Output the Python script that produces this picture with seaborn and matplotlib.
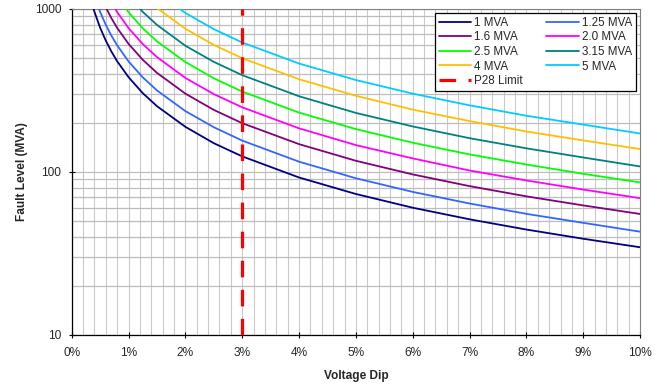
import matplotlib
matplotlib.use("Agg")
import matplotlib.pyplot as plt
from matplotlib.lines import Line2D
from matplotlib.ticker import FixedLocator, FuncFormatter, NullFormatter, LogLocator
import pandas as pd
import seaborn as sns

# voltage dip (%) at which each curve was read
dip = [0.35, 0.4, 0.5, 0.6, 0.7, 0.8, 1.0, 1.25, 1.5, 2, 2.5, 3, 4, 5, 6, 7, 8, 9, 10]

# fault level (MVA), one list per transformer size
mva_1    = [1096, 959, 766, 638, 546, 477, 381, 304, 253, 189, 150, 124.5, 92.4, 73.2, 60.3, 51.2, 44.3, 38.9, 34.5]
mva_1_25 = [1370, 1198, 958, 797, 683, 597, 476, 380, 316, 236, 188, 155.6, 115.5, 91.4, 75.4, 64.0, 55.3, 48.7, 43.0]
mva_1_6  = [1754, 1534, 1226, 1021, 874, 764, 610, 487, 405, 302, 240, 199, 148, 117, 96.5, 81.8, 70.8, 62.3, 55.2]
mva_2_0  = [2192, 1917, 1532, 1276, 1093, 955, 762, 608, 506, 377, 300, 249, 185, 146, 121, 102, 88.6, 77.9, 69.0]
mva_2_5  = [2740, 2397, 1915, 1595, 1366, 1194, 953, 760, 632, 472, 375, 311, 231, 183, 151, 128, 111, 97.3, 86.2]
mva_3_15 = [3453, 3020, 2414, 2010, 1721, 1504, 1201, 958, 797, 594, 473, 392, 291, 230, 190, 161, 139.5, 122.6, 108.0]
mva_4    = [4384, 3835, 3065, 2552, 2185, 1910, 1525, 1217, 1011, 755, 601, 498, 370, 293, 241, 205, 177, 156, 138]
mva_5    = [5480, 4793, 3831, 3190, 2732, 2387, 1906, 1521, 1264, 943, 751, 622, 462, 366, 302, 256, 221, 195, 172]

labels = ["1 MVA", "1.25 MVA", "1.6 MVA", "2.0 MVA", "2.5 MVA", "3.15 MVA", "4 MVA", "5 MVA"]
series = [mva_1, mva_1_25, mva_1_6, mva_2_0, mva_2_5, mva_3_15, mva_4, mva_5]
colors = ["#000080", "#3366FF", "#800080", "#FF00FF", "#00FF00", "#008080", "#FFC000", "#00CCFF"]

limit_dip = 3        # P28 limit (%)
y_range = [10, 1000]

df = pd.concat([pd.DataFrame({"dip": dip, "fault": vals, "size": lab})
                for lab, vals in zip(labels, series)], ignore_index=True)

sns.set_style("white")
plt.rcParams["font.family"] = ["Liberation Sans", "DejaVu Sans"]

fig = plt.figure(figsize=(6.64, 3.85), dpi=100)
ax = fig.add_axes([0.108, 0.130, 0.856, 0.847])

sns.lineplot(data=df, x="dip", y="fault", hue="size", hue_order=labels,
             palette=dict(zip(labels, colors)), lw=1.3, ax=ax, legend=False,
             sort=False, zorder=3)
ax.plot([limit_dip, limit_dip], y_range, color="#FF0000", lw=2.3,
        dashes=(5.2, 3.9), zorder=4)

ax.set_yscale("log")
ax.set_xlim(0, 10); ax.set_ylim(*y_range)

# grid: 0.2% vertical steps, log minors horizontally
ax.xaxis.set_major_locator(FixedLocator(range(0, 11)))
ax.xaxis.set_minor_locator(FixedLocator([i / 5 for i in range(51)]))
ax.xaxis.set_major_formatter(FuncFormatter(lambda v, p: f"{v:.0f}%"))
ax.yaxis.set_major_locator(FixedLocator([10, 100, 1000]))
ax.yaxis.set_major_formatter(FuncFormatter(lambda v, p: f"{v:.0f}"))
ax.yaxis.set_minor_locator(LogLocator(base=10, subs=range(2, 10)))
ax.yaxis.set_minor_formatter(NullFormatter())
ax.grid(which="both", axis="x", color="#CACACA", lw=0.8, zorder=0)
ax.grid(which="both", axis="y", color="#BDBDBD", lw=0.9, zorder=0)
ax.set_axisbelow(True)

ax.tick_params(which="major", direction="inout", length=5, width=0.8, color="black",
               labelsize=8.6, left=True, bottom=True)
ax.tick_params(axis="x", pad=6)
ax.tick_params(axis="y", pad=5)
ax.tick_params(which="minor", length=0)
for s in ["left", "bottom"]:
    ax.spines[s].set_color("black"); ax.spines[s].set_linewidth(0.9)
for s in ["top", "right"]:
    ax.spines[s].set_color("#808080"); ax.spines[s].set_linewidth(0.8)

ax.set_xlabel("Voltage Dip", fontsize=8.6, fontweight="bold", labelpad=8)
ax.set_ylabel("Fault Level (MVA)", fontsize=8.6, fontweight="bold", labelpad=5)

# legend filled row-wise like the original (two columns)
h = [Line2D([], [], color=c, lw=1.3) for c in colors]
p28 = Line2D([], [], color="#FF0000", lw=2.3, dashes=(5.2, 3.9))
order = [0, 2, 4, 6]
handles = [h[i] for i in order] + [p28] + [h[i] for i in [1, 3, 5, 7]]
names = [labels[i] for i in order] + ["P28 Limit"] + [labels[i] for i in [1, 3, 5, 7]]
leg = ax.legend(handles, names, ncol=2, loc="upper right", bbox_to_anchor=(0.993, 0.988),
                fontsize=8.4, frameon=True, fancybox=False, framealpha=1,
                edgecolor="black", handlelength=2.8, handletextpad=0.25,
                columnspacing=2.0, labelspacing=0.22, borderpad=0.35, borderaxespad=0)
leg.get_frame().set_linewidth(0.9)

fig.savefig("out.png", dpi=100)
